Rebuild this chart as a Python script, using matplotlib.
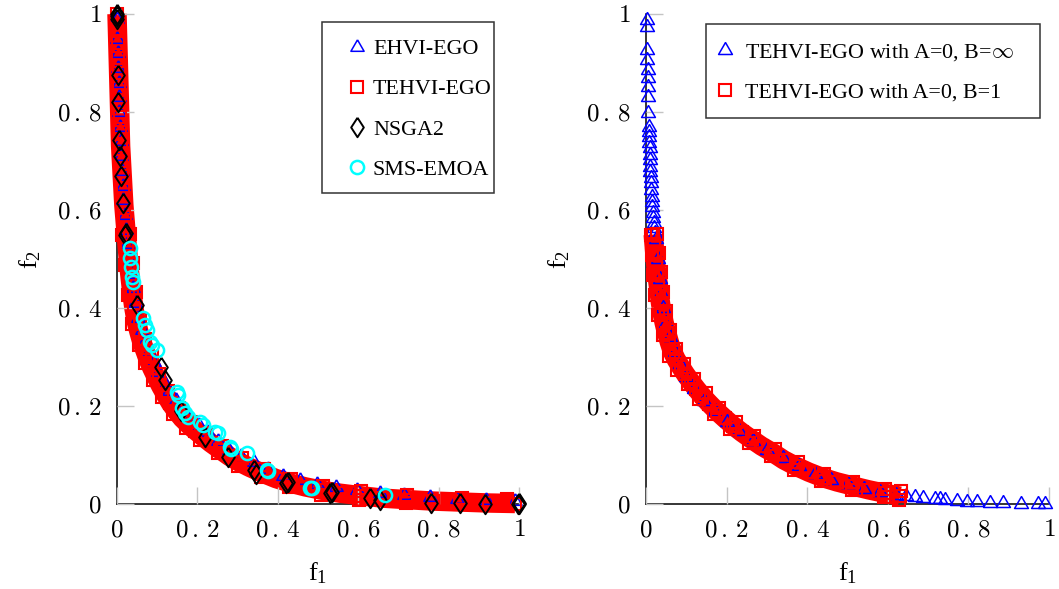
import matplotlib
matplotlib.use("Agg")
import matplotlib.pyplot as plt
from matplotlib.patches import Rectangle

plt.rcParams['font.family'] = ['Liberation Serif', 'DejaVu Serif']
plt.rcParams['mathtext.fontset'] = 'cm'

# ---- left panel data ----
ehvi_f1 = [0.0, 0.001, 0.002, 0.003, 0.004, 0.005, 0.006, 0.007, 0.009, 0.010, 0.012, 0.014, 0.016, 0.019,
           0.022, 0.026, 0.030, 0.035, 0.040, 0.046, 0.053, 0.061, 0.07, 0.08, 0.091, 0.103, 0.116, 0.13,
           0.146, 0.163, 0.182, 0.203, 0.226, 0.251, 0.278, 0.308, 0.34, 0.375, 0.413, 0.454, 0.498, 0.546,
           0.598, 0.654, 0.714, 0.778, 0.846, 0.918, 0.99]
ehvi_f2 = [0.99, 0.95, 0.92, 0.89, 0.86, 0.83, 0.80, 0.77, 0.74, 0.71, 0.68, 0.65, 0.62, 0.59,
           0.56, 0.53, 0.50, 0.47, 0.44, 0.41, 0.38, 0.355, 0.333, 0.311, 0.29, 0.27, 0.25, 0.231,
           0.212, 0.194, 0.177, 0.161, 0.146, 0.128, 0.11, 0.097, 0.085, 0.072, 0.058, 0.049, 0.041, 0.034,
           0.028, 0.023, 0.018, 0.014, 0.011, 0.009, 0.007]

# TEHVI-EGO, centre of the red band
tehvi_f1 = [0.000, 0.001, 0.002, 0.003, 0.004, 0.005, 0.006, 0.007, 0.008, 0.009, 0.011, 0.013, 0.015, 0.017,
            0.020, 0.023, 0.026, 0.029, 0.033, 0.037, 0.042, 0.048, 0.055, 0.062, 0.070, 0.078, 0.087, 0.097,
            0.108, 0.120, 0.133, 0.147, 0.162, 0.178, 0.195, 0.214, 0.234, 0.256, 0.280, 0.305, 0.332, 0.362,
            0.395, 0.430, 0.468, 0.510, 0.555, 0.605, 0.660, 0.720, 0.785, 0.855, 0.925, 0.990]
tehvi_f2 = [1.000, 0.970, 0.940, 0.910, 0.880, 0.850, 0.820, 0.790, 0.760, 0.730, 0.700, 0.670, 0.640, 0.610,
            0.580, 0.550, 0.520, 0.490, 0.460, 0.430, 0.400, 0.372, 0.350, 0.330, 0.312, 0.294, 0.277, 0.260,
            0.242, 0.224, 0.206, 0.190, 0.175, 0.162, 0.150, 0.137, 0.124, 0.111, 0.097, 0.085, 0.074, 0.063,
            0.052, 0.043, 0.035, 0.028, 0.022, 0.017, 0.012, 0.009, 0.006, 0.004, 0.002, 0.001]
# TEHVI-EGO, points along the two edges of the band
tehvi_edge_f1 = [0.033, 0.039, 0.047, 0.057, 0.07, 0.086, 0.105, 0.128, 0.155, 0.185, 0.221, 0.262, 0.31,
                 0.366, 0.433, 0.513, 0.607, 0.722, 0.857, 0.97,
                 0.013, 0.019, 0.027, 0.038, 0.054, 0.07, 0.089, 0.112, 0.139, 0.171, 0.207, 0.25, 0.3,
                 0.358, 0.427, 0.507, 0.603, 0.718, 0.853, 0.95]
tehvi_edge_f2 = [0.552, 0.492, 0.433, 0.377, 0.336, 0.30, 0.266, 0.23, 0.196, 0.168, 0.144, 0.118, 0.093,
                 0.071, 0.052, 0.037, 0.026, 0.018, 0.013, 0.01,
                 0.548, 0.488, 0.427, 0.367, 0.324, 0.288, 0.254, 0.218, 0.184, 0.156, 0.13, 0.104, 0.077,
                 0.055, 0.034, 0.019, 0.008, 0.002, 0.0, 0.0]

nsga_f1 = [0.0, 0.0, 0.001, 0.002, 0.003, 0.006, 0.008, 0.011, 0.014, 0.022, 0.02, 0.05, 0.11, 0.12, 0.16,
           0.22, 0.277, 0.34, 0.345, 0.42, 0.425, 0.53, 0.535, 0.63, 0.655, 0.78, 0.853, 0.915, 0.998, 1.0, 1.0]
nsga_f2 = [1.0, 0.995, 0.99, 0.875, 0.82, 0.743, 0.71, 0.67, 0.614, 0.553, 0.549, 0.406, 0.28, 0.253, 0.19,
           0.137, 0.096, 0.069, 0.062, 0.043, 0.045, 0.022, 0.025, 0.012, 0.008, 0.002, 0.002, 0.0, 0.001, 0.0, 0.002]

sms_f1 = [0.032, 0.032, 0.035, 0.037, 0.04, 0.065, 0.07, 0.074, 0.082, 0.087, 0.1, 0.149, 0.152, 0.162,
          0.17, 0.177, 0.206, 0.215, 0.244, 0.252, 0.281, 0.283, 0.323, 0.373, 0.375, 0.485, 0.48, 0.667]
sms_f2 = [0.522, 0.502, 0.484, 0.463, 0.453, 0.38, 0.365, 0.355, 0.33, 0.324, 0.314, 0.229, 0.222, 0.196,
          0.186, 0.178, 0.167, 0.161, 0.147, 0.145, 0.116, 0.113, 0.104, 0.069, 0.068, 0.033, 0.032, 0.018]

# ---- right panel data ----
binf_f1 = [0.002, 0.002, 0.003, 0.003, 0.004, 0.004, 0.005, 0.005, 0.006, 0.007, 0.007, 0.008, 0.008, 0.009,
           0.009, 0.010, 0.011, 0.011, 0.012, 0.013, 0.013, 0.014, 0.015, 0.016, 0.017, 0.018, 0.019, 0.020,
           0.022,
           0.025, 0.03, 0.034, 0.038, 0.042, 0.05, 0.06, 0.072, 0.085, 0.1, 0.12, 0.145, 0.17, 0.2, 0.23, 0.265,
           0.3, 0.34, 0.38, 0.42, 0.46, 0.5, 0.54, 0.58, 0.62, 0.645,
           0.667, 0.688, 0.717, 0.73, 0.742, 0.772, 0.796, 0.821, 0.854, 0.886, 0.93, 0.973, 0.99]
binf_f2 = [0.988, 0.973, 0.927, 0.906, 0.886, 0.869, 0.851, 0.831, 0.798, 0.77, 0.76, 0.749, 0.737, 0.727,
           0.712, 0.702, 0.688, 0.678, 0.665, 0.655, 0.641, 0.627, 0.616, 0.606, 0.594, 0.584, 0.573, 0.563,
           0.553,
           0.54, 0.5, 0.46, 0.43, 0.4, 0.37, 0.34, 0.31, 0.285, 0.26, 0.235, 0.21, 0.19, 0.168, 0.148, 0.128,
           0.11, 0.093, 0.077, 0.062, 0.05, 0.04, 0.031, 0.024, 0.018, 0.016,
           0.014, 0.012, 0.011, 0.01, 0.009, 0.006, 0.005, 0.004, 0.003, 0.002, 0.001, 0.0, 0.0]

b1_f1 = [0.018, 0.02, 0.022, 0.024, 0.027, 0.03, 0.033, 0.036, 0.04, 0.045, 0.051, 0.058, 0.066, 0.075,
         0.086, 0.098, 0.111, 0.125, 0.14, 0.157, 0.175, 0.195, 0.216, 0.238, 0.262, 0.287, 0.314, 0.342,
         0.372, 0.404, 0.438, 0.474, 0.512, 0.552, 0.592, 0.63]
b1_f2 = [0.55, 0.53, 0.51, 0.49, 0.47, 0.45, 0.43, 0.41, 0.39, 0.37, 0.35, 0.33, 0.31, 0.295,
         0.28, 0.265, 0.25, 0.235, 0.22, 0.205, 0.19, 0.175, 0.16, 0.146, 0.132, 0.118, 0.105, 0.09,
         0.077, 0.065, 0.054, 0.045, 0.037, 0.029, 0.022, 0.016]
b1_edge_f1 = [0.028, 0.032, 0.037, 0.043, 0.05, 0.06, 0.074, 0.094, 0.119, 0.148, 0.182, 0.223, 0.268,
              0.319, 0.376, 0.441, 0.514, 0.594, 0.632,
              0.012, 0.014, 0.017, 0.023, 0.03, 0.042, 0.058, 0.078, 0.103, 0.132, 0.168, 0.209, 0.256,
              0.309, 0.368, 0.435, 0.51, 0.59, 0.628]
b1_edge_f2 = [0.552, 0.512, 0.473, 0.433, 0.394, 0.356, 0.317, 0.286, 0.256, 0.226, 0.196, 0.167, 0.139,
              0.113, 0.085, 0.062, 0.045, 0.03, 0.026,
              0.548, 0.508, 0.467, 0.427, 0.386, 0.344, 0.303, 0.274, 0.244, 0.214, 0.184, 0.153, 0.125,
              0.097, 0.069, 0.046, 0.029, 0.014, 0.009]

ticks = [0, 0.2, 0.4, 0.6, 0.8, 1]
tick_labels = [r'$0$', r'$0\,.\,2$', r'$0\,.\,4$', r'$0\,.\,6$', r'$0\,.\,8$', r'$1$']

tri = [(0, 1), (-0.866, -0.5), (0.866, -0.5), (0, 1)]
dia = [(0, 1), (-0.65, 0), (0, -1), (0.65, 0), (0, 1)]

W, H = 1059, 589
fig = plt.figure(figsize=(W / 100, H / 100), dpi=100)
ax1 = fig.add_axes([117 / W, 85 / H, 402 / W, 490 / H])
ax2 = fig.add_axes([646 / W, 85 / H, 403 / W, 490 / H])


def style_axis(ax):
    ax.set_xlim(0, 1)
    ax.set_ylim(0, 1)
    ax.spines['top'].set_visible(False)
    ax.spines['right'].set_visible(False)
    for s in ('left', 'bottom'):
        ax.spines[s].set_linewidth(1.1)
        ax.spines[s].set_zorder(0.5)
    ax.set_xticks(ticks)
    ax.set_yticks(ticks)
    ax.set_xticklabels(tick_labels)
    ax.set_yticklabels(tick_labels)
    ax.tick_params(direction='in', length=12, width=1.0, color='#c4c4c4',
                   labelsize=18, pad=11)
    ax.set_xlabel(r'$\mathregular{f_1}$', fontsize=19, labelpad=14)
    ax.set_ylabel(r'$\mathregular{f_2}$', fontsize=19, labelpad=10)


mk = dict(linestyle='none', markerfacecolor='none', clip_on=False)
red_band = dict(color='red', linewidth=14, solid_capstyle='butt', solid_joinstyle='round',
                clip_on=False, zorder=1)

# left panel
ax1.plot(tehvi_f1, tehvi_f2, **red_band)
ax1.plot(ehvi_f1, ehvi_f2, marker=tri, markersize=11, markeredgecolor='blue', markeredgewidth=1.1,
         label='EHVI-EGO', zorder=2, **mk)
ax1.plot(tehvi_f1 + tehvi_edge_f1, tehvi_f2 + tehvi_edge_f2, marker='s', markersize=9,
         markeredgecolor='red', markeredgewidth=1.5, label='TEHVI-EGO', zorder=3, **mk)
ax1.plot(nsga_f1, nsga_f2, marker=dia, markersize=14, markeredgecolor='black', markeredgewidth=1.4,
         label='NSGA2', zorder=4, **mk)
ax1.plot(sms_f1, sms_f2, marker='o', markersize=9.5, markeredgecolor='cyan', markeredgewidth=1.8,
         label='SMS-EMOA', zorder=5, **mk)
style_axis(ax1)

# right panel
ax2.plot(b1_f1, b1_f2, **red_band)
ax2.plot(binf_f1, binf_f2, marker=tri, markersize=11.5, markeredgecolor='blue', markeredgewidth=1.1,
         label=r'TEHVI-EGO with A=0, B=$\infty$', zorder=2, **mk)
ax2.plot(b1_f1 + b1_edge_f1, b1_f2 + b1_edge_f2, marker='s', markersize=9, markeredgecolor='red',
         markeredgewidth=1.5, label='TEHVI-EGO with A=0, B=1', zorder=3, **mk)
style_axis(ax2)

leg_kw = dict(fontsize=15.8, frameon=False, borderpad=0, borderaxespad=0,
              labelspacing=0.9, handlelength=1.0, markerscale=1.0,
              loc='upper left', bbox_transform=fig.transFigure)
ax1.legend(bbox_to_anchor=(346 / W, 1 - 39 / H), handletextpad=0.23, **leg_kw)
ax2.legend(bbox_to_anchor=(714 / W, 1 - 42 / H), handletextpad=0.41, **leg_kw)

# legend boxes
for x0, y0, x1, y1 in [(322, 22, 494, 193), (706, 24, 1040, 118)]:
    fig.patches.append(Rectangle((x0 / W, 1 - y1 / H), (x1 - x0) / W, (y1 - y0) / H,
                                 transform=fig.transFigure, fill=False,
                                 edgecolor='#333333', linewidth=1.1))

fig.savefig('out.png', dpi=100)
